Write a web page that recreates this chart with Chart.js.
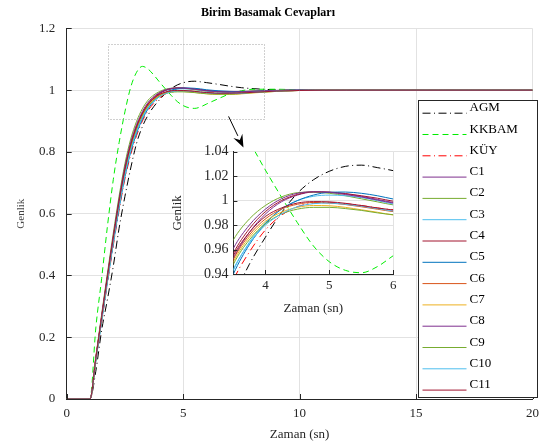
<!DOCTYPE html>
<html><head><meta charset="utf-8">
<script src="https://cdn.jsdelivr.net/npm/chart.js@4.4.0/dist/chart.umd.min.js"></script>
<style>
html,body{margin:0;padding:0;background:#fff;}
#wrap{position:relative;width:546px;height:444px;overflow:hidden;background:#fff;}
#wrap canvas,#wrap svg{position:absolute;left:0;top:0;}
</style></head><body>
<div id="wrap">
<canvas id="main" width="546" height="444"></canvas>
<canvas id="inset" width="546" height="444"></canvas>
<svg id="legend" width="546" height="444" xmlns="http://www.w3.org/2000/svg"></svg>
</div>
<script>
// ---------- data ----------
const time = [0, 1, 1.25, 1.5, 1.75, 2, 2.25, 2.5, 2.75, 3, 3.25, 3.5, 3.75, 4, 4.25, 4.5, 4.75, 5, 5.25, 5.5, 5.75, 6, 6.5, 7, 7.5, 8, 9, 10, 12, 15, 20];
const agm   = [0, 0, 0.09, 0.222, 0.323, 0.43, 0.553, 0.656, 0.748, 0.828, 0.882, 0.92, 0.948, 0.97, 0.99, 1.006, 1.017, 1.024, 1.028, 1.029, 1.027, 1.0245, 1.019, 1.013, 1.008, 1.005, 1.001, 1.0, 1.0, 1.0, 1.0];
const kkbam = [0, 0, 0.23, 0.39, 0.56, 0.71, 0.83, 0.93, 1.01, 1.058, 1.077, 1.068, 1.048, 1.025, 1.003, 0.982, 0.963, 0.95, 0.943, 0.941, 0.946, 0.955, 0.972, 0.988, 0.998, 1.003, 1.003, 1.001, 1.0, 1.0, 1.0];
const kuy   = [0, 0, 0.121, 0.248, 0.375, 0.497, 0.611, 0.713, 0.792, 0.853, 0.900, 0.935, 0.958, 0.976, 0.988, 0.995, 0.998, 0.9985, 0.9975, 0.996, 0.994, 0.9925, 0.991, 0.991, 0.992, 0.994, 0.997, 0.999, 1.0, 1.0, 1.0];
const c1  = [0, 0, 0.130, 0.262, 0.393, 0.519, 0.636, 0.740, 0.820, 0.878, 0.922, 0.953, 0.974, 0.989, 0.999, 1.0045, 1.007, 1.0068, 1.0055, 1.0035, 1.001, 0.9985, 0.996, 0.995, 0.996, 0.997, 0.999, 1.0, 1.0, 1.0, 1.0];
const c2  = [0, 0, 0.137, 0.274, 0.408, 0.537, 0.657, 0.762, 0.842, 0.899, 0.940, 0.968, 0.985, 0.996, 1.003, 1.0065, 1.007, 1.006, 1.004, 1.0015, 0.999, 0.9965, 0.994, 0.994, 0.995, 0.997, 0.999, 1.0, 1.0, 1.0, 1.0];
const c3  = [0, 0, 0.125, 0.254, 0.383, 0.507, 0.622, 0.725, 0.805, 0.864, 0.910, 0.943, 0.966, 0.982, 0.993, 1.0, 1.0035, 1.0045, 1.004, 1.0025, 1.0, 0.9972, 0.994, 0.993, 0.994, 0.996, 0.999, 1.0, 1.0, 1.0, 1.0];
const c4  = [0, 0, 0.132, 0.266, 0.397, 0.523, 0.642, 0.746, 0.826, 0.884, 0.926, 0.957, 0.977, 0.991, 1.0, 1.005, 1.0072, 1.007, 1.0058, 1.004, 1.002, 0.9995, 0.996, 0.995, 0.995, 0.996, 0.999, 1.0, 1.0, 1.0, 1.0];
const c5  = [0, 0, 0.123, 0.252, 0.380, 0.503, 0.618, 0.720, 0.800, 0.860, 0.906, 0.940, 0.964, 0.981, 0.993, 1.0, 1.0045, 1.0068, 1.007, 1.006, 1.004, 1.0013, 0.998, 0.996, 0.995, 0.996, 0.998, 1.0, 1.0, 1.0, 1.0];
const c6  = [0, 0, 0.129, 0.262, 0.392, 0.517, 0.635, 0.738, 0.818, 0.877, 0.920, 0.952, 0.972, 0.985, 0.993, 0.997, 0.9985, 0.998, 0.9968, 0.995, 0.993, 0.991, 0.989, 0.989, 0.991, 0.993, 0.997, 0.999, 1.0, 1.0, 1.0];
const c7  = [0, 0, 0.128, 0.260, 0.390, 0.515, 0.632, 0.735, 0.815, 0.874, 0.918, 0.950, 0.970, 0.983, 0.9905, 0.9945, 0.996, 0.9958, 0.9945, 0.9925, 0.9905, 0.9882, 0.986, 0.986, 0.988, 0.991, 0.996, 0.999, 1.0, 1.0, 1.0];
const c8  = [0, 0, 0.134, 0.269, 0.401, 0.528, 0.647, 0.752, 0.832, 0.889, 0.931, 0.961, 0.980, 0.993, 1.0015, 1.006, 1.0072, 1.0068, 1.005, 1.003, 1.0005, 0.998, 0.995, 0.994, 0.995, 0.996, 0.999, 1.0, 1.0, 1.0, 1.0];
const c9  = [0, 0, 0.127, 0.258, 0.388, 0.513, 0.629, 0.732, 0.812, 0.871, 0.916, 0.948, 0.968, 0.981, 0.989, 0.993, 0.9945, 0.9945, 0.9935, 0.992, 0.990, 0.9885, 0.987, 0.987, 0.989, 0.992, 0.996, 0.999, 1.0, 1.0, 1.0];
const c10 = [0, 0, 0.125, 0.255, 0.384, 0.508, 0.624, 0.726, 0.806, 0.866, 0.911, 0.944, 0.965, 0.980, 0.989, 0.995, 0.9975, 0.998, 0.997, 0.9955, 0.9935, 0.9915, 0.989, 0.989, 0.990, 0.993, 0.997, 0.999, 1.0, 1.0, 1.0];
const c11 = [0, 0, 0.131, 0.264, 0.395, 0.521, 0.639, 0.743, 0.823, 0.881, 0.924, 0.955, 0.974, 0.987, 0.994, 0.998, 0.9992, 0.999, 0.9978, 0.996, 0.994, 0.9923, 0.990, 0.990, 0.991, 0.993, 0.997, 0.999, 1.0, 1.0, 1.0];

const seriesNames  = ['AGM', 'KKBAM', 'KÜY', 'C1', 'C2', 'C3', 'C4', 'C5', 'C6', 'C7', 'C8', 'C9', 'C10', 'C11'];
const seriesValues = [agm, kkbam, kuy, c1, c2, c3, c4, c5, c6, c7, c8, c9, c10, c11];

const mainXTicks  = [0, 5, 10, 15, 20];
const mainYTicks  = [0, 0.2, 0.4, 0.6, 0.8, 1, 1.2];
const insetXTicks = [4, 5, 6];
const insetYTicks = [0.94, 0.96, 0.98, 1, 1.02, 1.04];

// zoom window and arrow, in data units of the main axes
const zoomBox   = {x0: 1.77, x1: 8.45, y0: 0.908, y1: 1.148};
const arrowFrom = {x: 6.95, y: 0.915};
const arrowTo   = {x: 7.59, y: 0.814};

// ---------- styles ----------
const colors = ['#000000', '#00ee00', '#ff0000', '#7E2F8E', '#77AC30', '#4DBEEE', '#A2142F', '#0072BD', '#D95319', '#EDB120', '#7E2F8E', '#77AC30', '#4DBEEE', '#A2142F'];
const dashDot = [8, 3.5, 1, 3.5];
const dashes = [dashDot, [6, 4], dashDot, [], [], [], [], [], [], [], [], [], [], []];
const FONT = "'Liberation Serif', 'Times New Roman', serif";
const INK = '#262626';
const GRID = '#e2e2e2';

function makeDatasets() {
  return seriesValues.map((vals, i) => ({
    label: seriesNames[i],
    data: time.map((t, k) => ({x: t, y: vals[k]})),
    borderColor: colors[i],
    borderDash: dashes[i],
    borderWidth: 1,
    pointRadius: 0,
    fill: false,
    cubicInterpolationMode: 'monotone',
    order: seriesValues.length - i
  }));
}
const fmt = v => String(Math.round(v * 1000) / 1000);

const inwardTicks = {
  id: 'inwardTicks',
  afterDatasetsDraw(chart, args, opts) {
    const {ctx, chartArea: a, scales: {x, y}} = chart;
    ctx.save();
    ctx.strokeStyle = INK; ctx.lineWidth = 1; ctx.setLineDash([]);
    ctx.beginPath();
    x.ticks.forEach(t => {
      const px = Math.round(x.getPixelForValue(t.value)) + 0.5;
      ctx.moveTo(px, a.bottom); ctx.lineTo(px, a.bottom - opts.len);
    });
    y.ticks.forEach(t => {
      const py = Math.round(y.getPixelForValue(t.value)) + 0.5;
      ctx.moveTo(a.left, py); ctx.lineTo(a.left + opts.len, py);
    });
    ctx.stroke();
    ctx.restore();
  }
};

const zoomMarks = {
  id: 'zoomMarks',
  afterDatasetsDraw(chart) {
    const {ctx, scales: {x, y}} = chart;
    ctx.save();
    const l = Math.round(x.getPixelForValue(zoomBox.x0)) + 0.5, r = Math.round(x.getPixelForValue(zoomBox.x1)) + 0.5;
    const t = Math.round(y.getPixelForValue(zoomBox.y1)) + 0.5, b = Math.round(y.getPixelForValue(zoomBox.y0)) + 0.5;
    ctx.strokeStyle = '#a0a0a0'; ctx.lineWidth = 1; ctx.setLineDash([1, 2]);
    ctx.strokeRect(l, t, r - l, b - t);
    const x0 = x.getPixelForValue(arrowFrom.x), y0 = y.getPixelForValue(arrowFrom.y);
    const x1 = x.getPixelForValue(arrowTo.x), y1 = y.getPixelForValue(arrowTo.y);
    const ang = Math.atan2(y1 - y0, x1 - x0), hl = 13, hw = 5;
    const bx = x1 - hl * Math.cos(ang), by = y1 - hl * Math.sin(ang);
    ctx.setLineDash([]); ctx.strokeStyle = '#000'; ctx.fillStyle = '#000';
    ctx.beginPath(); ctx.moveTo(x0, y0); ctx.lineTo(bx, by); ctx.stroke();
    ctx.beginPath();
    ctx.moveTo(x1, y1);
    ctx.lineTo(bx + hw * Math.sin(ang), by - hw * Math.cos(ang));
    ctx.lineTo(bx + 0.35 * hl * Math.cos(ang), by + 0.35 * hl * Math.sin(ang));
    ctx.lineTo(bx - hw * Math.sin(ang), by + hw * Math.cos(ang));
    ctx.closePath(); ctx.fill();
    ctx.restore();
  }
};

const whiteArea = {
  id: 'whiteArea',
  beforeDraw(chart) {
    const {ctx, chartArea: a} = chart;
    ctx.save(); ctx.fillStyle = '#fff';
    ctx.fillRect(a.left, a.top, a.right - a.left, a.bottom - a.top);
    ctx.restore();
  }
};

// ---------- main chart ----------
new Chart(document.getElementById('main'), {
  type: 'line',
  data: {datasets: makeDatasets()},
  options: {
    responsive: false, animation: false, devicePixelRatio: 1,
    layout: {padding: {left: 0, right: 10, top: 0, bottom: 0}},
    plugins: {
      legend: {display: false}, tooltip: {enabled: false},
      title: {display: true, text: 'Birim Basamak Cevapları', color: '#000',
              font: {family: FONT, size: 12, weight: 'bold'}, padding: {top: 6, bottom: 8}},
      inwardTicks: {len: 5}
    },
    scales: {
      x: {
        type: 'linear', min: 0, max: 20,
        afterBuildTicks: s => { s.ticks = mainXTicks.map(v => ({value: v})); },
        afterFit: s => { s.height = 45; },
        grid: {color: GRID, drawTicks: false},
        border: {color: INK, width: 1},
        ticks: {padding: 7, color: INK, font: {family: FONT, size: 13}, callback: fmt, maxRotation: 0},
        title: {display: true, text: 'Zaman (sn)', color: INK, font: {family: FONT, size: 13}, padding: {top: 0, bottom: 2}}
      },
      y: {
        type: 'linear', min: 0, max: 1.2,
        afterBuildTicks: s => { s.ticks = mainYTicks.map(v => ({value: v})); },
        afterFit: s => { s.width = 66.7; },
        grid: {color: GRID, drawTicks: false},
        border: {color: INK, width: 1},
        ticks: {padding: 11.5, color: INK, font: {family: FONT, size: 13}, callback: fmt},
        title: {display: true, text: 'Genlik', color: '#444', font: {family: FONT, size: 11}, padding: {top: 14.4, bottom: 0}}
      }
    }
  },
  plugins: [zoomMarks, inwardTicks]
});

// ---------- inset chart ----------
new Chart(document.getElementById('inset'), {
  type: 'line',
  data: {datasets: makeDatasets()},
  options: {
    responsive: false, animation: false, devicePixelRatio: 1,
    layout: {padding: {left: 165, right: 152.7, top: 151.7, bottom: 128}},
    plugins: {legend: {display: false}, tooltip: {enabled: false}, title: {display: false}, inwardTicks: {len: 4}},
    scales: {
      x: {
        type: 'linear', min: 3.5, max: 6,
        afterBuildTicks: s => { s.ticks = insetXTicks.map(v => ({value: v})); },
        afterFit: s => { s.height = 42; },
        grid: {color: GRID, drawTicks: false},
        border: {color: INK, width: 1},
        ticks: {padding: 4, color: INK, font: {family: FONT, size: 13}, callback: fmt, maxRotation: 0},
        title: {display: true, text: 'Zaman (sn)', color: INK, font: {family: FONT, size: 13}, padding: {top: 0, bottom: 0}}
      },
      y: {
        type: 'linear', min: 0.94, max: 1.04,
        afterBuildTicks: s => { s.ticks = insetYTicks.map(v => ({value: v})); },
        afterFit: s => { s.width = 68.4; },
        grid: {color: GRID, drawTicks: false},
        border: {color: INK, width: 1},
        ticks: {padding: 5, color: INK, font: {family: FONT, size: 14}, callback: fmt},
        title: {display: true, text: 'Genlik', color: INK, font: {family: FONT, size: 13}, padding: {top: 5.2, bottom: 0}}
      }
    }
  },
  plugins: [whiteArea, inwardTicks]
});

// ---------- legend ----------
(function () {
  const svg = document.getElementById('legend');
  const NS = 'http://www.w3.org/2000/svg';
  const box = {x: 418.5, y: 100.5, w: 119, h: 297, row: 21.3, textY: 10.7, lineY: 12.7, l0: 4, l1: 48, tx: 51};
  const rect = document.createElementNS(NS, 'rect');
  rect.setAttribute('x', box.x); rect.setAttribute('y', box.y);
  rect.setAttribute('width', box.w); rect.setAttribute('height', box.h);
  rect.setAttribute('fill', '#fff'); rect.setAttribute('stroke', INK); rect.setAttribute('stroke-width', '1');
  svg.appendChild(rect);
  seriesNames.forEach((name, i) => {
    const yl = box.y + box.lineY + i * box.row;
    const ln = document.createElementNS(NS, 'line');
    ln.setAttribute('x1', box.x + box.l0); ln.setAttribute('x2', box.x + box.l1);
    ln.setAttribute('y1', yl); ln.setAttribute('y2', yl);
    ln.setAttribute('stroke', colors[i]); ln.setAttribute('stroke-width', '1');
    if (dashes[i].length) ln.setAttribute('stroke-dasharray', dashes[i].join(' '));
    svg.appendChild(ln);
    const tx = document.createElementNS(NS, 'text');
    tx.setAttribute('x', box.x + box.tx); tx.setAttribute('y', box.y + box.textY + i * box.row);
    tx.setAttribute('font-family', FONT); tx.setAttribute('font-size', '13'); tx.setAttribute('fill', '#000');
    tx.textContent = name;
    svg.appendChild(tx);
  });
})();
</script>
</body></html>
